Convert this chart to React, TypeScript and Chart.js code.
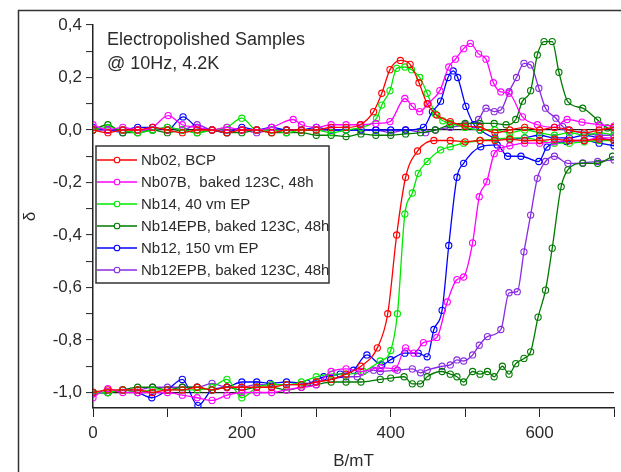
import React, { useEffect, useRef } from 'react';
import { Chart, registerables } from 'chart.js';

Chart.register(...registerables);

type Pt = [number, number];

// ---- axis ticks ----
const X_TICKS = [0, 100, 200, 300, 400, 500, 600, 700];
const Y_TICKS = [-1.0, -0.9, -0.8, -0.7, -0.6, -0.5, -0.4, -0.3, -0.2, -0.1, 0.0, 0.1, 0.2, 0.3, 0.4];

// ---- labels ----
const TITLE_LINES = ['Electropolished Samples', '@ 10Hz, 4.2K'];
const SERIES_LABELS = [
  'Nb02, BCP',
  'Nb07B,  baked 123C, 48h',
  'Nb14, 40 vm EP',
  'Nb14EPB, baked 123C, 48h',
  'Nb12, 150 vm EP',
  'Nb12EPB, baked 123C, 48h',
];
const SERIES_COLORS = ['#ff0000', '#ff00ff', '#00e800', '#007a00', '#0000ff', '#8a2be2'];

// ---- data: [B (mT), delta] ----
const NB02_RISE: Pt[] = [[0,-1.0],[20,-0.99],[40,-0.99],[60,-0.99],[80,-1.0],[100,-0.99],[120,-0.99],[140,-0.98],[160,-0.99],[180,-0.98],[200,-0.98],[220,-0.98],[240,-0.98],[260,-0.97],[280,-0.97],[300,-0.96],[320,-0.95],[340,-0.93],[360,-0.9],[382,-0.83],[396,-0.7],[408,-0.4],[420,-0.18],[436,-0.08],[458,-0.04],[480,-0.04],[500,-0.045],[520,-0.04],[540,-0.04],[560,-0.035],[580,-0.04],[600,-0.04],[620,-0.035],[640,-0.04],[660,-0.04],[680,-0.035],[700,-0.04]];
const NB02_RETURN: Pt[] = [[0,0.0],[20,-0.01],[40,0.0],[60,0.0],[80,0.01],[100,0.0],[120,-0.01],[140,0.0],[160,0.0],[180,-0.01],[200,0.0],[220,0.0],[240,-0.01],[260,0.0],[280,0.0],[300,0.0],[320,0.01],[340,0.01],[359,0.02],[377,0.07],[388,0.14],[399,0.23],[413,0.265],[426,0.25],[438,0.18],[449,0.1],[462,0.057],[480,0.032],[500,0.015],[520,0.01],[540,-0.01],[560,0.0],[580,0.01],[600,0.0],[620,0.01],[640,0.0],[660,-0.01],[680,0.0],[700,0.01]];

const NB07B_RISE: Pt[] = [[0,-1.02],[20,-0.985],[40,-1.0],[60,-1.0],[80,-1.0],[100,-1.0],[120,-1.01],[140,-1.02],[160,-1.03],[180,-1.01],[200,-1.0],[220,-1.0],[240,-1.0],[260,-0.99],[280,-0.98],[300,-0.97],[320,-0.92],[340,-0.91],[360,-0.92],[386,-0.905],[406,-0.91],[420,-0.83],[431,-0.85],[444,-0.81],[462,-0.79],[476,-0.655],[489,-0.57],[498,-0.56],[510,-0.43],[519,-0.254],[529,-0.197],[539,-0.09],[548,-0.07],[560,-0.06],[580,-0.05],[600,-0.05],[620,-0.045],[640,-0.04],[660,-0.04],[680,-0.03],[700,-0.03]];
const NB07B_RETURN: Pt[] = [[0,0.02],[20,0.0],[40,0.01],[60,0.0],[80,0.01],[101,0.055],[120,0.02],[140,0.01],[160,0.0],[180,0.01],[200,0.0],[220,0.0],[240,0.01],[269,0.04],[280,0.02],[300,0.01],[320,0.02],[340,0.02],[360,0.02],[380,0.025],[399,0.032],[419,0.12],[429,0.09],[439,0.07],[450,0.1],[466,0.15],[478,0.24],[487,0.27],[498,0.31],[507,0.33],[518,0.29],[528,0.27],[538,0.18],[548,0.145],[559,0.14],[577,0.05],[597,0.02],[620,0.01],[637,0.04],[657,0.03],[680,0.02],[700,0.015]];

const NB14_RISE: Pt[] = [[0,-1.0],[20,-1.0],[40,-0.99],[60,-1.0],[80,-0.99],[100,-0.99],[120,-0.99],[140,-0.99],[160,-0.98],[180,-0.95],[200,-1.02],[220,-0.98],[240,-0.97],[260,-0.97],[280,-0.96],[300,-0.94],[320,-0.93],[340,-0.93],[363,-0.92],[386,-0.88],[400,-0.84],[409,-0.7],[419,-0.32],[429,-0.24],[437,-0.165],[449,-0.12],[467,-0.076],[480,-0.064],[498,-0.05],[520,-0.04],[540,-0.035],[560,-0.03],[580,-0.03],[600,-0.04],[620,-0.05],[640,-0.05],[660,-0.045],[680,-0.04],[700,-0.04]];
const NB14_RETURN: Pt[] = [[0,0.0],[20,0.01],[40,0.0],[60,-0.01],[80,0.0],[100,0.01],[120,0.0],[140,-0.01],[160,0.0],[180,0.01],[200,0.045],[220,0.0],[240,0.0],[260,-0.01],[280,0.0],[300,0.0],[320,-0.01],[340,0.0],[360,0.01],[381,0.045],[388,0.095],[399,0.15],[408,0.235],[419,0.24],[428,0.23],[439,0.2],[449,0.14],[460,0.06],[470,0.035],[480,0.025],[500,0.01],[520,0.0],[540,0.0],[560,-0.01],[580,0.0],[600,-0.01],[620,-0.02],[640,-0.01],[660,-0.02],[680,-0.01],[700,-0.02]];

const NB14EPB_RISE: Pt[] = [[0,-1.0],[20,-1.0],[40,-0.99],[60,-0.98],[80,-0.98],[100,-0.99],[120,-0.98],[140,-0.98],[160,-0.99],[180,-0.98],[200,-0.99],[220,-0.98],[240,-0.98],[260,-0.99],[280,-0.98],[300,-0.97],[320,-0.96],[340,-0.96],[360,-0.96],[386,-0.95],[400,-0.945],[418,-0.94],[429,-0.967],[440,-0.967],[449,-0.94],[469,-0.92],[480,-0.93],[489,-0.94],[498,-0.96],[510,-0.92],[520,-0.93],[530,-0.92],[539,-0.94],[550,-0.9],[559,-0.93],[568,-0.89],[579,-0.87],[588,-0.845],[598,-0.713],[608,-0.61],[617,-0.45],[629,-0.216],[638,-0.152],[658,-0.127],[678,-0.127],[698,-0.1]];
const NB14EPB_RETURN: Pt[] = [[0,0.0],[20,0.02],[40,-0.01],[60,-0.01],[80,0.0],[100,-0.01],[120,0.0],[140,-0.01],[160,0.0],[180,-0.01],[200,-0.01],[220,0.0],[240,-0.01],[260,-0.01],[280,-0.01],[300,-0.02],[320,-0.02],[340,-0.025],[360,-0.015],[380,-0.02],[400,-0.02],[420,-0.015],[440,-0.01],[460,0.0],[480,0.02],[500,0.025],[520,0.025],[539,0.025],[555,0.02],[568,0.04],[577,0.11],[588,0.15],[597,0.286],[606,0.337],[617,0.337],[626,0.22],[638,0.108],[658,0.083],[678,0.038],[691,0.008],[700,0.0]];

const NB12_RISE: Pt[] = [[0,-1.0],[20,-1.0],[40,-0.99],[60,-1.0],[79,-1.02],[100,-0.99],[120,-0.95],[141,-1.05],[160,-0.99],[180,-0.98],[200,-0.96],[220,-0.96],[238,-0.965],[260,-0.96],[288,-0.965],[310,-0.94],[332,-0.93],[350,-0.915],[368,-0.857],[388,-0.895],[400,-0.875],[419,-0.85],[437,-0.85],[449,-0.864],[458,-0.76],[469,-0.687],[478,-0.44],[489,-0.18],[498,-0.127],[521,-0.064],[543,-0.057],[557,-0.1],[575,-0.1],[599,-0.12],[610,-0.065],[636,-0.044],[660,-0.04],[680,-0.05],[700,-0.06]];
const NB12_RETURN: Pt[] = [[0,0.01],[20,0.0],[40,0.0],[60,0.01],[80,0.01],[100,0.0],[121,0.05],[140,0.01],[160,0.0],[180,-0.01],[200,0.01],[220,0.0],[240,0.01],[260,0.0],[280,0.0],[300,0.01],[320,0.0],[340,0.0],[360,0.0],[380,0.0],[400,0.0],[420,0.0],[444,0.01],[456,0.07],[467,0.11],[477,0.2],[484,0.225],[490,0.2],[501,0.09],[512,0.02],[520,0.0],[540,-0.03],[560,-0.035],[580,-0.03],[600,-0.02],[620,-0.03],[640,-0.03],[660,-0.02],[680,-0.03],[700,-0.04]];

const NB12EPB_RISE: Pt[] = [[0,-1.0],[20,-1.0],[40,-0.99],[60,-0.99],[80,-0.98],[100,-0.98],[120,-0.98],[140,-0.98],[160,-0.965],[180,-0.98],[200,-0.98],[220,-0.97],[240,-0.97],[260,-0.97],[280,-0.97],[300,-0.96],[320,-0.95],[340,-0.94],[355,-0.94],[377,-0.915],[386,-0.92],[409,-0.915],[429,-0.91],[440,-0.925],[449,-0.915],[469,-0.9],[480,-0.895],[489,-0.876],[498,-0.88],[510,-0.857],[519,-0.82],[530,-0.787],[548,-0.76],[559,-0.62],[570,-0.616],[579,-0.464],[588,-0.324],[597,-0.184],[608,-0.12],[620,-0.1],[638,-0.127],[658,-0.125],[678,-0.12],[700,-0.114]];
const NB12EPB_RETURN: Pt[] = [[0,0.0],[20,0.0],[40,-0.01],[60,0.0],[80,0.0],[100,0.01],[120,0.0],[140,0.02],[160,0.0],[180,0.0],[200,0.0],[220,-0.01],[240,0.0],[260,0.0],[280,0.0],[300,0.0],[320,0.0],[340,0.0],[360,0.0],[380,0.0],[400,-0.01],[420,0.0],[447,-0.01],[460,0.0],[480,0.01],[500,0.02],[518,0.04],[528,0.083],[539,0.07],[548,0.076],[559,0.146],[569,0.2],[579,0.254],[588,0.248],[599,0.159],[608,0.083],[622,0.045],[631,0.013],[638,0.0],[660,-0.01],[680,-0.02],[700,-0.02]];

const RISE_BRANCHES = [NB02_RISE, NB07B_RISE, NB14_RISE, NB14EPB_RISE, NB12_RISE, NB12EPB_RISE];
const RETURN_BRANCHES = [NB02_RETURN, NB07B_RETURN, NB14_RETURN, NB14EPB_RETURN, NB12_RETURN, NB12EPB_RETURN];

const FONT = "'Liberation Sans', Arial, Helvetica, sans-serif";
const TEXT = '#2b2b2b';
const AXIS = '#222222';

export default function App() {
  const ref = useRef<HTMLCanvasElement>(null);

  useEffect(() => {
    if (!ref.current) return;
    const datasets: any[] = [];
    SERIES_LABELS.forEach((label, i) => {
      [RISE_BRANCHES[i], RETURN_BRANCHES[i]].forEach((branch) => {
        datasets.push({
          label,
          data: branch.map(([x, y]) => ({ x, y })),
          showLine: true,
          borderColor: SERIES_COLORS[i],
          borderWidth: 1.3,
          pointRadius: 3.1,
          pointBorderWidth: 1.1,
          pointBorderColor: SERIES_COLORS[i],
          pointBackgroundColor: 'rgba(0,0,0,0)',
          cubicInterpolationMode: 'monotone',
          fill: false,
        });
      });
    });

    const overlay = {
      id: 'overlay',
      afterDraw(chart: any) {
        const ctx = chart.ctx as CanvasRenderingContext2D;
        ctx.save();
        // outer frame
        ctx.strokeStyle = '#333';
        ctx.lineWidth = 1.5;
        ctx.strokeRect(18.5, 10.5, 700, 600);
        // title text
        ctx.fillStyle = TEXT;
        ctx.font = `18px ${FONT}`;
        ctx.textAlign = 'left';
        ctx.textBaseline = 'alphabetic';
        ctx.fillText(TITLE_LINES[0], 107, 45);
        ctx.fillText(TITLE_LINES[1], 107, 69);
        // legend
        const bx = 96, by = 146, bw = 233, bh = 137;
        ctx.fillStyle = '#ffffff';
        ctx.fillRect(bx, by, bw, bh);
        ctx.strokeStyle = '#333';
        ctx.lineWidth = 1.5;
        ctx.strokeRect(bx, by, bw, bh);
        ctx.font = `15px ${FONT}`;
        ctx.textBaseline = 'middle';
        SERIES_LABELS.forEach((label, i) => {
          const y = 160 + i * 22;
          ctx.strokeStyle = SERIES_COLORS[i];
          ctx.lineWidth = 1.3;
          ctx.beginPath();
          ctx.moveTo(97, y);
          ctx.lineTo(137, y);
          ctx.stroke();
          ctx.fillStyle = '#ffffff';
          ctx.beginPath();
          ctx.arc(117, y, 2.8, 0, Math.PI * 2);
          ctx.fill();
          ctx.lineWidth = 1.1;
          ctx.stroke();
          ctx.fillStyle = TEXT;
          ctx.fillText(label, 141, y + 1);
        });
        ctx.restore();
      },
    };

    const chart = new Chart(ref.current, {
      type: 'scatter',
      data: { datasets },
      options: {
        animation: false,
        responsive: false,
        devicePixelRatio: 1,
        layout: { padding: { left: 0, top: 25, right: 7, bottom: 0 } },
        plugins: { legend: { display: false }, tooltip: { enabled: false } },
        scales: {
          x: {
            type: 'linear',
            min: 0,
            max: 700,
            afterFit: (scale: any) => { scale.height = 64; },
            afterBuildTicks: (scale: any) => { scale.ticks = X_TICKS.map((v) => ({ value: v })); },
            ticks: {
              autoSkip: false,
              maxRotation: 0,
              padding: 6,
              color: TEXT,
              font: { family: FONT, size: 17 },
              callback: (v: any) => (Number(v) % 200 === 0 ? String(v) : ''),
            },
            grid: { drawOnChartArea: false, drawTicks: true, tickLength: 9, tickColor: AXIS, tickWidth: 1 },
            border: { display: true, color: AXIS, width: 1.5 },
            title: { display: true, text: 'B/mT', color: TEXT, font: { family: FONT, size: 17 }, padding: { top: 0, bottom: 0 } },
          },
          y: {
            type: 'linear',
            min: -1.059,
            max: 0.4,
            afterFit: (scale: any) => { scale.width = 93; },
            afterBuildTicks: (scale: any) => { scale.ticks = Y_TICKS.map((v) => ({ value: v })); },
            ticks: {
              autoSkip: false,
              padding: 4,
              color: TEXT,
              font: { family: FONT, size: 17 },
              callback: (v: any) => {
                const r = Math.round(Number(v) * 10);
                return r % 2 === 0 ? (r / 10).toFixed(1).replace('.', ',') : '';
              },
            },
            grid: {
              drawOnChartArea: true,
              drawTicks: true,
              tickLength: 7,
              tickColor: AXIS,
              tickWidth: 1,
              lineWidth: 1.2,
              color: (c: any) => {
                const v = c.tick ? c.tick.value : NaN;
                return Math.abs(v) < 1e-9 || Math.abs(v + 1) < 1e-9 ? '#222' : 'rgba(0,0,0,0)';
              },
            },
            border: { display: true, color: AXIS, width: 1.5 },
            title: { display: true, text: 'δ', color: TEXT, font: { family: FONT, size: 17 }, padding: { top: 20, bottom: 0 } },
          },
        },
      } as any,
      plugins: [overlay],
    });
    return () => chart.destroy();
  }, []);

  return (
    <div style={{ position: 'fixed', left: 0, top: 0, width: 621, height: 472, background: '#ffffff' }}>
      <canvas ref={ref} width={621} height={472} style={{ width: 621, height: 472, display: 'block' }} />
    </div>
  );
}
